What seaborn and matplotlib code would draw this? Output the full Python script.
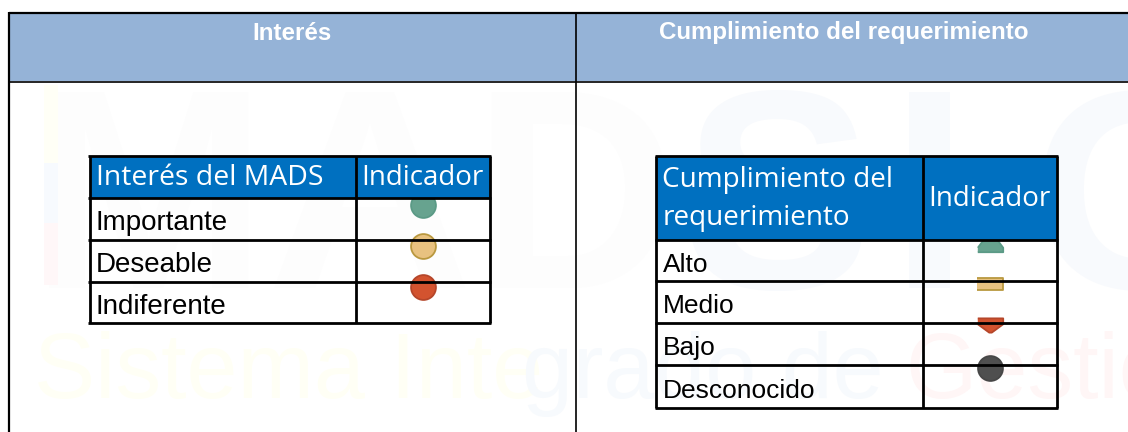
import matplotlib
matplotlib.use("Agg")
import matplotlib.pyplot as plt
from matplotlib.patches import Rectangle
import pandas as pd
import seaborn as sns

sns.set_theme(style="white")

# Content
header_titles = ["Interés", "Cumplimiento del requerimiento"]
left_head = ["Interés del MADS", "Indicador"]
left_rows = ["Importante", "Deseable", "Indiferente"]
left_states = ["verde", "amarillo", "rojo"]
right_head = ["Cumplimiento del\nrequerimiento", "Indicador"]
right_rows = ["Alto", "Medio", "Bajo", "Desconocido"]
right_states = ["verde", "amarillo", "rojo", "gris"]

fills = {"verde": "#67A38F", "amarillo": "#E8C280", "rojo": "#D3532F", "gris": "#4F4F4F"}
edges = {"verde": "#5B9A86", "amarillo": "#B9983F", "rojo": "#B5462A", "gris": "#474747"}

# Flattened indicator glyphs (marker outlines in marker units)
UP = [(-1, -.45), (1, -.45), (1, -.1), (.55, .5), (-.55, .5), (-1, -.1)]
BAR = [(-1, -.44), (1, -.44), (1, .44), (-1, .44)]
DOWN = [(-1, .56), (1, .56), (1, .1), (.1, -.56), (-.1, -.56), (-1, .1)]

W, H = 1128, 432
fig = plt.figure(figsize=(W / 100, H / 100), dpi=100, facecolor="white")
ax = fig.add_axes([0, 0, 1, 1])

SANS = ["Liberation Sans", "DejaVu Sans"]
UI = ["Open Sans", "DejaVu Sans"]


def markers(x, ys, states, shapes, sizes):
    df = pd.DataFrame({"x": [x] * len(ys), "y": ys, "estado": states})
    for i, row in df.iterrows():
        sns.scatterplot(data=df.iloc[[i]], x="x", y="y", marker=shapes[i], s=sizes[i],
                        color=fills[row["estado"]], edgecolor=edges[row["estado"]],
                        linewidth=1.3, ax=ax, legend=False, zorder=3)


markers(423, [205, 245.7, 286.7], left_states, ["o"] * 3, [320] * 3)
markers(990, [245.5, 283.75, 324.75, 368], right_states, [UP, BAR, DOWN, "o"], [335, 335, 335, 320])

ax.set_xlim(0, W)
ax.set_ylim(H, 0)
ax.axis("off")

# Faint watermark
wm = dict(family=SANS, fontsize=66, va="baseline", zorder=1)
ax.text(34, 398, "Sistema Inte", color="#FFFFF5", **wm)
ax.text(522, 398, "grado de", color="#F7FAFD", **wm)
ax.text(905, 398, "Gestión", color="#FFF6F6", clip_on=True, **wm)
big = dict(family=SANS, fontsize=205, fontweight="bold", zorder=1, clip_on=True)
ax.text(30, 288, "MAD", color="#FDFDFD", **big)
ax.text(683, 288, "S", color="#F8FAFD", **big)
ax.text(890, 288, "I", color="#F8FAFD", **big)
ax.text(1030, 288, "G", color="#F8FAFD", **big)
ax.add_patch(Rectangle((44, 85), 14, 78, fc="#FFFFF6", ec="none", zorder=1))
ax.add_patch(Rectangle((44, 163), 14, 60, fc="#F7FAFE", ec="none", zorder=1))
ax.add_patch(Rectangle((44, 223), 14, 62, fc="#FFF7F8", ec="none", zorder=1))

# Outer header band
ax.add_patch(Rectangle((9, 12), W - 9, 69, fc="#95B3D7", ec="none", zorder=2))
ax.plot([9, W], [12.5, 12.5], color="black", lw=1.6, zorder=5, solid_capstyle="butt")
ax.plot([9, W], [81.5, 81.5], color="black", lw=1.2, zorder=5, solid_capstyle="butt")
ax.plot([8.5, 8.5], [12, H], color="black", lw=1.6, zorder=5, solid_capstyle="butt")
ax.plot([576, 576], [12, H], color="black", lw=1.2, zorder=5, solid_capstyle="butt")

ax.text(292.5, 33, header_titles[0], color="white", family=SANS, fontweight="bold",
        fontsize=17.4, ha="center", va="center", zorder=6)
ax.text(843.5, 33, header_titles[1], color="white", family=SANS, fontweight="bold",
        fontsize=17.4, ha="center", va="center", zorder=6)


# Inner tables
def table(x0, xm, x1, ylines, head, rows, fs, hs):
    ax.add_patch(Rectangle((x0, ylines[0]), x1 - x0, ylines[1] - ylines[0], fc="#0070C0", ec="none", zorder=4))
    for y in ylines:
        ax.plot([x0 - 1.5, x1 + 1.5], [y, y], color="black", lw=2, zorder=5, solid_capstyle="butt")
    for x in (x0, xm, x1):
        ax.plot([x, x], [ylines[0], ylines[-1]], color="black", lw=2, zorder=5, solid_capstyle="butt")
    for label, a, b in zip(rows, ylines[1:], ylines[2:]):
        ax.text(x0 + 6.5, (a + b) / 2 + 4.5, label, family=SANS, fontsize=fs, color="black",
                ha="left", va="center", zorder=6)
    ym = (ylines[0] + ylines[1]) / 2
    ax.text(x0 + 6.5, ym + 1.5, head[0], family=UI, fontsize=hs, color="white", ha="left",
            va="center", linespacing=1.5, zorder=6)
    ax.text((xm + x1) / 2, ym + 1.5, head[1], family=UI, fontsize=20, color="white", ha="center",
            va="center", zorder=6)


table(89.5, 355.5, 489.5, [156, 197.5, 239.5, 281.5, 323], left_head, left_rows, 20, 20.4)
table(656, 922.5, 1056.5, [156, 239.5, 280.5, 322.5, 364.7, 408], right_head, right_rows, 19, 20.1)

fig.savefig("out.png", dpi=100, facecolor="white")
